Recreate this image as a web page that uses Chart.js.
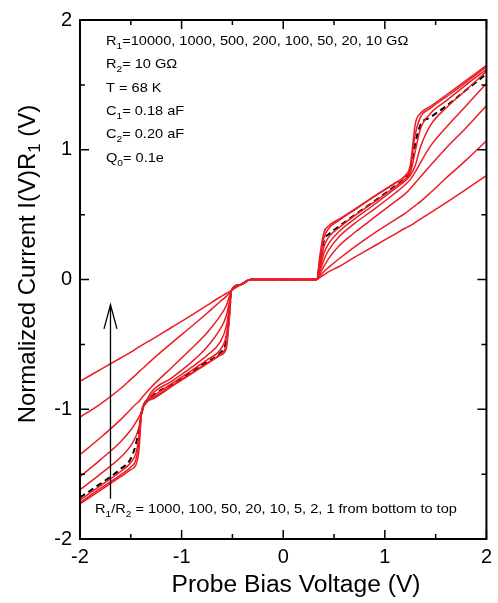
<!DOCTYPE html>
<html><head><meta charset="utf-8">
<script src="https://cdn.jsdelivr.net/npm/chart.js@4.4.1/dist/chart.umd.min.js"></script>
<style>html,body{margin:0;padding:0;background:#fff;}</style>
</head><body>
<canvas id="c" width="498" height="603"></canvas>
<script>
// ---------- data ----------
const biasV = [-2, -1.8, -1.6, -1.5, -1.45, -1.42, -1.39, -1.3, -1.1, -0.9, -0.75, -0.62, -0.56, -0.53, -0.51, -0.42, -0.32,
  0,
  0.33, 0.36, 0.40, 0.45, 0.55, 0.7, 0.9, 1.1, 1.2, 1.25, 1.3, 1.35, 1.45, 1.6, 1.8, 2];

const ratio1000 = [-1.73, -1.625, -1.52, -1.465, -1.43, -1.32, -1.0, -0.925, -0.825, -0.725, -0.65, -0.585, -0.53, -0.30, -0.085, -0.04, 0,
  0,
  0, 0.18, 0.36, 0.415, 0.465, 0.54, 0.645, 0.745, 0.80, 0.88, 1.20, 1.28, 1.335, 1.42, 1.535, 1.65];
const ratio100 = [-1.72, -1.61, -1.505, -1.445, -1.39, -1.25, -1.0, -0.92, -0.82, -0.72, -0.645, -0.575, -0.50, -0.28, -0.085, -0.04, 0,
  0,
  0, 0.14, 0.32, 0.395, 0.455, 0.535, 0.64, 0.74, 0.795, 0.85, 1.12, 1.25, 1.32, 1.405, 1.52, 1.64];
const ratio50 = [-1.70, -1.59, -1.48, -1.41, -1.34, -1.21, -1.0, -0.91, -0.805, -0.70, -0.62, -0.54, -0.43, -0.24, -0.085, -0.04, 0,
  0,
  0, 0.10, 0.25, 0.33, 0.40, 0.49, 0.60, 0.715, 0.775, 0.82, 0.99, 1.16, 1.28, 1.375, 1.50, 1.62];
const ratio20 = [-1.62, -1.50, -1.37, -1.28, -1.21, -1.14, -1.01, -0.89, -0.785, -0.675, -0.585, -0.48, -0.36, -0.21, -0.085, -0.04, 0,
  0,
  0, 0.08, 0.20, 0.28, 0.37, 0.465, 0.58, 0.70, 0.76, 0.80, 0.88, 1.02, 1.19, 1.32, 1.46, 1.605];
const ratio10 = [-1.52, -1.39, -1.25, -1.16, -1.10, -1.06, -1.01, -0.87, -0.76, -0.635, -0.52, -0.38, -0.28, -0.17, -0.085, -0.04, 0,
  0,
  0, 0.06, 0.15, 0.23, 0.33, 0.43, 0.545, 0.665, 0.73, 0.77, 0.83, 0.90, 1.03, 1.17, 1.34, 1.51];
const ratio5 = [-1.35, -1.22, -1.08, -1.00, -0.96, -0.94, -0.91, -0.83, -0.68, -0.53, -0.41, -0.28, -0.20, -0.13, -0.085, -0.04, 0,
  0,
  0, 0.04, 0.10, 0.165, 0.26, 0.36, 0.48, 0.60, 0.66, 0.70, 0.745, 0.79, 0.88, 1.01, 1.17, 1.34];
const ratio2 = [-1.06, -0.96, -0.84, -0.77, -0.735, -0.71, -0.69, -0.625, -0.49, -0.36, -0.26, -0.17, -0.13, -0.105, -0.085, -0.04, 0,
  0,
  0, 0.025, 0.06, 0.095, 0.16, 0.25, 0.36, 0.46, 0.51, 0.54, 0.57, 0.60, 0.67, 0.78, 0.92, 1.07];
const ratio1 = [-0.785, -0.695, -0.605, -0.56, -0.535, -0.52, -0.505, -0.465, -0.37, -0.275, -0.20, -0.135, -0.108, -0.094, -0.085, -0.04, 0,
  0,
  0, 0.015, 0.035, 0.06, 0.10, 0.17, 0.26, 0.35, 0.395, 0.415, 0.44, 0.465, 0.515, 0.59, 0.695, 0.80];
const dashedRef = [-1.68, -1.575, -1.46, -1.38, -1.27, -1.16, -1.02, -0.91, -0.81, -0.71, -0.635, -0.565, -0.47, -0.26, -0.085, -0.04, 0,
  0,
  0, 0.12, 0.30, 0.35, 0.41, 0.495, 0.605, 0.72, 0.78, 0.84, 1.05, 1.19, 1.25, 1.335, 1.46, 1.585];

const redSeries = [ratio1000, ratio100, ratio50, ratio20, ratio10, ratio5, ratio2, ratio1];
const redNames = ['1000', '100', '50', '20', '10', '5', '2', '1'];

const majorTicks = [-2, -1, 0, 1, 2];
const minorTicks = [-1.5, -0.5, 0.5, 1.5];

// ---------- style ----------
const FONT = "'Liberation Sans', Arial, Helvetica, sans-serif";
const RED = '#ec1c24';

function toXY(ys) { return biasV.map((x, i) => ({ x: x, y: ys[i] })); }

const datasets = redSeries.map((ys, i) => ({
  label: 'R1/R2 = ' + redNames[i],
  data: toXY(ys),
  borderColor: RED, borderWidth: 1.5, pointRadius: 0, fill: false,
  cubicInterpolationMode: 'monotone'
}));
datasets.push({
  label: 'reference', data: toXY(dashedRef),
  borderColor: '#000', borderWidth: 2, borderDash: [6, 4], pointRadius: 0, fill: false,
  cubicInterpolationMode: 'monotone'
});

function richText(ctx, parts, x, y, size, sx) {
  ctx.save();
  ctx.translate(x, y);
  ctx.scale(sx || 1, 1);
  let cx = 0;
  for (const [t, sub] of parts) {
    const fs = sub ? size * 0.7 : size;
    ctx.font = fs + 'px ' + FONT;
    ctx.fillText(t, cx, sub ? size * 0.3 : 0);
    cx += ctx.measureText(t).width;
  }
  ctx.restore();
}
function richWidth(ctx, parts, size) {
  let w = 0;
  for (const [t, sub] of parts) {
    ctx.font = (sub ? size * 0.7 : size) + 'px ' + FONT;
    w += ctx.measureText(t).width;
  }
  return w;
}

const infoLines = [
  [['R', 0], ['1', 1], ['=10000, 1000, 500, 200, 100, 50, 20, 10 G\u03A9', 0]],
  [['R', 0], ['2', 1], ['= 10 G\u03A9', 0]],
  [['T = 68 K', 0]],
  [['C', 0], ['1', 1], ['= 0.18 aF', 0]],
  [['C', 0], ['2', 1], ['= 0.20 aF', 0]],
  [['Q', 0], ['0', 1], ['= 0.1e', 0]]
];
const noteLine = [['R', 0], ['1', 1], ['/R', 0], ['2', 1], [' = 1000, 100, 50, 20, 10, 5, 2, 1 from bottom to top', 0]];
const xTitle = [['Probe Bias Voltage (V)', 0]];
const yTitle = [['Normalized Current I(V)R', 0], ['1', 1], [' (V)', 0]];

const decor = {
  id: 'decor',
  afterDatasetsDraw(chart) {
    const { ctx, chartArea: a, scales: { x, y } } = chart;
    ctx.save();
    ctx.strokeStyle = '#000';
    ctx.fillStyle = '#000';
    // frame
    ctx.lineWidth = 2;
    ctx.strokeRect(a.left, a.top, a.right - a.left, a.bottom - a.top);
    // inward ticks
    ctx.lineWidth = 1.5;
    ctx.beginPath();
    const tk = (v, len) => {
      const px = x.getPixelForValue(v), py = y.getPixelForValue(v);
      ctx.moveTo(px, a.bottom); ctx.lineTo(px, a.bottom - len);
      ctx.moveTo(px, a.top); ctx.lineTo(px, a.top + len);
      ctx.moveTo(a.left, py); ctx.lineTo(a.left + len, py);
      ctx.moveTo(a.right, py); ctx.lineTo(a.right - len, py);
    };
    majorTicks.forEach(v => tk(v, 9));
    minorTicks.forEach(v => tk(v, 5));
    ctx.stroke();

    // arrow
    const ax = x.getPixelForValue(-1.70);
    const ay0 = y.getPixelForValue(-1.69), ay1 = y.getPixelForValue(-0.195);
    ctx.lineWidth = 1.3;
    ctx.beginPath();
    ctx.moveTo(ax, ay0); ctx.lineTo(ax, ay1);
    ctx.moveTo(ax - 6.5, ay1 + 24); ctx.lineTo(ax, ay1); ctx.lineTo(ax + 6.5, ay1 + 24);
    ctx.stroke();

    // info text
    ctx.textBaseline = 'alphabetic';
    ctx.textAlign = 'left';
    infoLines.forEach((parts, i) => richText(ctx, parts, 106, 45 + i * 23.3, 13.5, 1.08));
    richText(ctx, noteLine, 95, 513, 13.5, 1.08);

    // axis titles
    ctx.textBaseline = 'middle';
    const xw = richWidth(ctx, xTitle, 23) * 1.07;
    richText(ctx, xTitle, 296 - xw / 2, 586, 23, 1.07);
    ctx.translate(28, 264);
    ctx.rotate(-Math.PI / 2);
    const w = richWidth(ctx, yTitle, 24);
    richText(ctx, yTitle, -w / 2, 0, 24, 1);
    ctx.restore();
  }
};

new Chart(document.getElementById('c'), {
  type: 'line',
  data: { datasets: datasets },
  options: {
    responsive: false,
    animation: false,
    events: [],
    layout: { padding: { top: 10, right: 6, left: 0, bottom: 0 } },
    plugins: { legend: { display: false }, tooltip: { enabled: false } },
    scales: {
      x: {
        type: 'linear', min: -2, max: 2,
        grid: { display: false, drawTicks: false }, border: { display: false },
        ticks: { stepSize: 1, color: '#000', padding: 6, maxRotation: 0, autoSkip: false,
                 font: { family: FONT, size: 20 } },
        afterFit: s => { s.height = 64; }
      },
      y: {
        type: 'linear', min: -2, max: 2,
        grid: { display: false, drawTicks: false }, border: { display: false },
        ticks: { stepSize: 1, color: '#000', padding: 8,
                 font: { family: FONT, size: 20 } },
        afterFit: s => { s.width = 80; }
      }
    }
  },
  plugins: [decor]
});
</script>
</body></html>
